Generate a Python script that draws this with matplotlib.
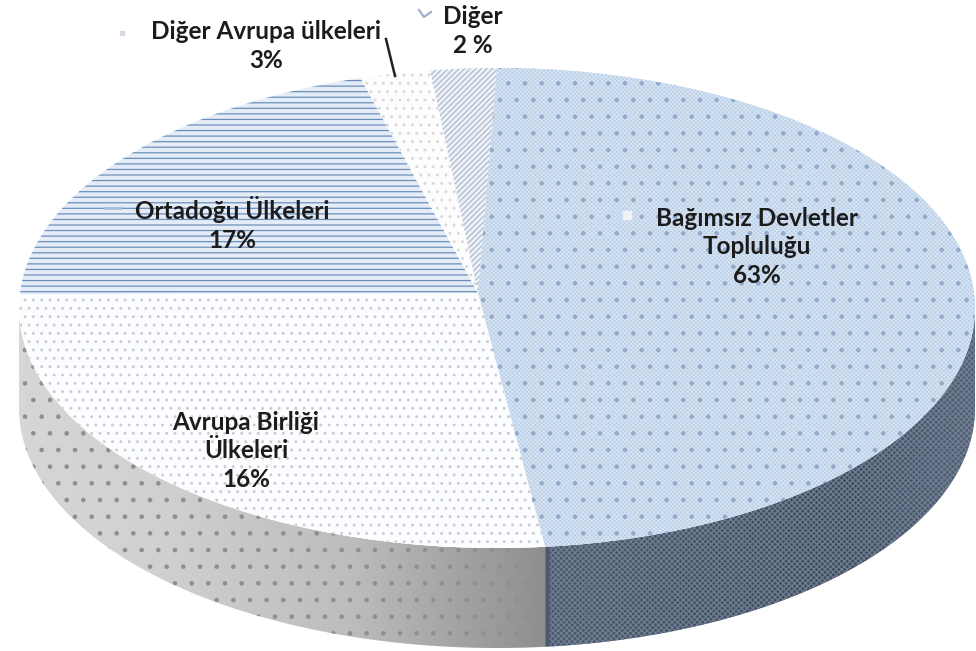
import numpy as np
import matplotlib
matplotlib.use("Agg")
import matplotlib.pyplot as plt
from matplotlib.patches import Ellipse, Polygon

W, H = 976, 651

# drawn angle shares (the labels do not match the drawn sizes)
names = ["Bağımsız Devletler\nTopluluğu", "Avrupa Birliği\nÜlkeleri", "Ortadoğu Ülkeleri",
         "Diğer Avrupa ülkeleri", "Diğer"]
pct_labels = ["63%", "16%", "17%", "3%", "2 %"]
shares = [44.6, 29.1, 17.1, 4.6, 4.7]
faces = ["#b4cbe6", "#fcfdfe", "#e4edf7", "#fdfdfd", "#eef2f8"]
hatch_cols = ["#d3e1f1", "#c9ccd2", "#6c8fb9", "#d8d8d8", "#aebace"]
hatches = ["xxxxxxxx", "..", "---", "..", "//////"]
label_x = [757, 246, 232, 266, 473]
label_y = [247, 451, 224, 46, 31]

def Y(y):
    return H - y

plt.rcParams["font.family"] = ["Lato", "DejaVu Sans"]
plt.rcParams["hatch.linewidth"] = 0.9
fig = plt.figure(figsize=(W / 100, H / 100), dpi=100)
ax = fig.add_axes([0, 0, 1, 1])

# side wall of the pie
cx, cy, a, b, depth = 497, 308, 478, 240, 100
t = np.linspace(np.pi, 2 * np.pi, 300)
upper = np.c_[cx + a * np.cos(t), Y(cy - b * np.sin(t))]
lower = np.c_[cx + a * np.cos(t), Y(cy + depth - b * np.sin(t))]
wall = Polygon(np.r_[upper, lower[::-1]], closed=True, fc="none", ec="none")
ax.add_patch(wall)

grad_x = [19, 150, 350, 544, 546, 700, 850, 975]
grad_r = [0.84, 0.82, 0.74, 0.56, 0.30, 0.27, 0.25, 0.33]
grad_g = [0.84, 0.82, 0.74, 0.56, 0.35, 0.32, 0.30, 0.38]
grad_b = [0.84, 0.82, 0.74, 0.56, 0.42, 0.39, 0.37, 0.46]
xs = np.arange(W)
grad = np.stack([np.interp(xs, grad_x, c) for c in (grad_r, grad_g, grad_b)], axis=1)[None, :, :]
im = ax.imshow(grad, extent=(0, W, 0, H), aspect="auto", zorder=1)
im.set_clip_path(wall)

# wall texture, left and right of the seam
seam = 545
left = upper[:, 0] <= seam
p1 = Polygon(np.r_[upper[left], lower[left][::-1]], closed=True, fc="none", ec="#8f8f8f", hatch=".", lw=0, zorder=2)
p2 = Polygon(np.r_[upper[~left], lower[~left][::-1]], closed=True, fc="none", ec="#6f7e92", hatch="xxxxxx", lw=0, zorder=2)
ax.add_patch(p1)
ax.add_patch(p2)

# top face: wedges from the off-centre apex, clipped by the ellipse
top = Ellipse((cx, Y(cy)), 2 * a, 2 * b, fc="white", ec="none", zorder=3)
ax.add_patch(top)
wedges, _ = ax.pie(shares, center=(478, Y(293)), radius=1500, startangle=85.2,
                   counterclock=False, frame=True)
for w, fc, hc, ht in zip(wedges, faces, hatch_cols, hatches):
    w.set(facecolor=fc, edgecolor=hc, hatch=ht, linewidth=0, zorder=4)
    w.set_clip_on(True)
    w.set_clip_path(top)
# darker check blocks of the biggest slice
over = ax.pie([shares[0], 100 - shares[0]], center=(478, Y(293)), radius=1500, startangle=85.2,
              counterclock=False, frame=True, colors=["none", "none"])[0]
over[0].set(edgecolor="#94abcb", hatch=".", linewidth=0, zorder=5)
over[0].set_clip_on(True)
over[0].set_clip_path(top)
over[1].set_visible(False)

ax.set_aspect("auto")
ax.set_xlim(0, W)
ax.set_ylim(0, H)
ax.axis("off")

# labels
for i in range(len(names)):
    ax.text(label_x[i], Y(label_y[i]), names[i] + "\n" + pct_labels[i], ha="center", va="center",
            fontsize=17.5, fontweight="bold", color="#1c1c1c", linespacing=1.3, zorder=8)

# leader line and the small legend keys left beside the labels
ax.plot([386, 395], [Y(39), Y(76)], color="#222222", lw=1.8, zorder=8)
ax.plot([419, 424, 431], [Y(10), Y(17), Y(12)], color="#9fb0cc", lw=1.6, zorder=8)
ax.plot([122], [Y(33)], marker="s", ms=3, color="#d5dbe5", zorder=8)
ax.plot([105, 120], [Y(208), Y(208)], color="#a9bdd6", lw=2, zorder=6)
ax.plot([627], [Y(215)], marker="s", ms=6, color="#eef3fa", zorder=8)

fig.savefig("out.png", dpi=100)
